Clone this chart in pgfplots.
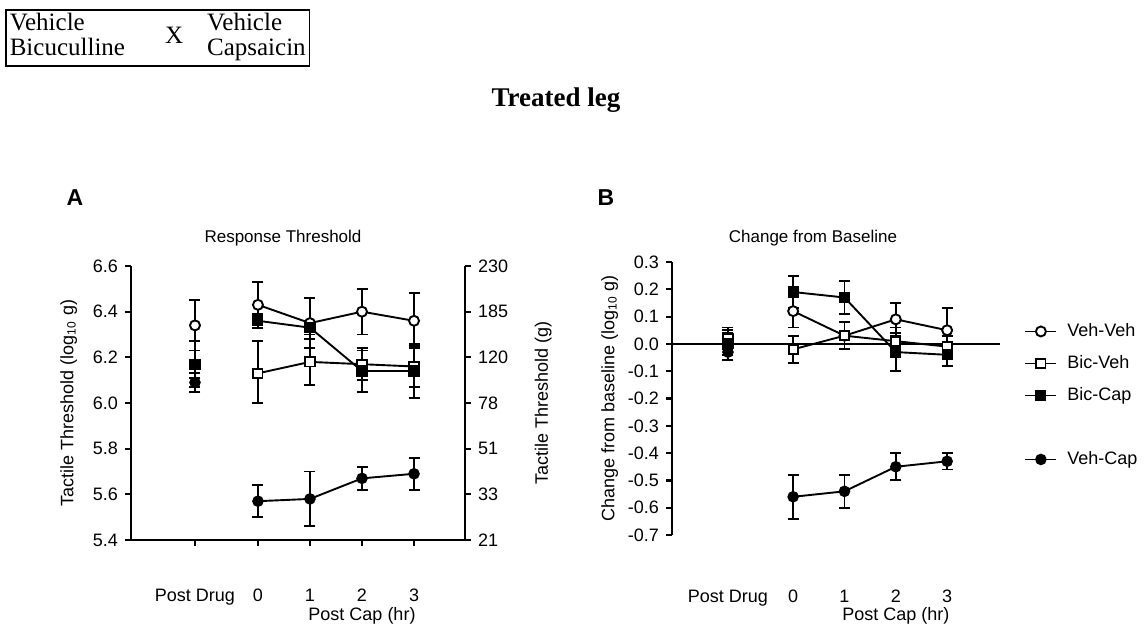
\documentclass[border=0pt]{standalone}
\usepackage{pgfplots}
\pgfplotsset{compat=1.18}
\usepackage{fontspec}
\setmainfont{Liberation Sans}
\newfontfamily\seriffont{Liberation Serif}
\begin{document}
\begin{tikzpicture}
\pgfplotsset{
  every axis/.append style={
    scale only axis, clip=false,
    font=\fontsize{9}{11}\selectfont,
    /pgf/number format/assume math mode=true,
    axis line style={-, line width=1.1pt},
    tick align=outside, major tick length=3pt,
    every tick/.style={line width=1.1pt, black},
    yticklabel style={/pgf/number format/fixed, /pgf/number format/fixed zerofill, /pgf/number format/precision=1},
  },
  dat/.style={black, line width=0.95pt,
    error bars/y dir=both, error bars/y explicit,
    error bars/error bar style={line width=0.95pt},
    error bars/error mark options={rotate=90, mark size=2.75pt, line width=0.95pt}},
  vv/.style={dat, mark=*, mark size=2.5pt, mark options={fill=white, draw=black, solid}},
  bv/.style={dat, mark=square*, mark size=2.3pt, mark options={fill=white, draw=black, solid}},
  bc/.style={dat, mark=square*, mark size=2.3pt, mark options={fill=black, draw=black, solid}},
  vc/.style={dat, mark=*, mark size=2.4pt, mark options={fill=black, draw=black, solid}},
}
\path[use as bounding box] (0,0) rectangle (572.5pt,-313.5pt);

% header box
\node[draw, line width=0.8pt, anchor=north west, inner xsep=2pt, inner ysep=1.5pt, font=\seriffont\fontsize{12.5}{12.5}\selectfont] at (2.5pt,-4.5pt)
 {\begin{tabular}{@{}l@{}}Vehicle\\Bicuculline\end{tabular}\hspace{20pt}X\hspace{12pt}\begin{tabular}{@{}l@{}}Vehicle\\Capsaicin\end{tabular}};
\node[font=\seriffont\bfseries\fontsize{13.5}{16}\selectfont] at (278pt,-50pt) {Treated leg};
\node[font=\bfseries\fontsize{11.5}{13}\selectfont] at (37.5pt,-99pt) {A};
\node[font=\bfseries\fontsize{11.5}{13}\selectfont] at (303pt,-99pt) {B};
\node[font=\fontsize{8.5}{10}\selectfont] at (141.5pt,-119pt) {Response Threshold};
\node[font=\fontsize{8.5}{10}\selectfont] at (406.5pt,-119pt) {Change from Baseline};

% Panel A, left axis
\begin{axis}[at={(65.5pt,-270pt)}, anchor=south west, width=167pt, height=137pt,
  xmin=-2.44, xmax=3.98, ymin=5.4, ymax=6.6,
  axis x line*=bottom, axis y line*=left,
  xtick={-1.21,0,1,2,3}, xticklabels={Post Drug,0,1,2,3},
  xticklabel style={yshift=-18pt},
  ytick={5.4,5.6,5.8,6.0,6.2,6.4,6.6},
  ylabel={Tactile Threshold (log\textsubscript{10} g)},
  ylabel style={yshift=1pt},
]
\addplot[vv] coordinates {(0,6.43) +- (0,0.10) (1,6.35) +- (0,0.11) (2,6.40) +- (0,0.10) (3,6.36) +- (0,0.12)};
\addplot[vv, only marks, forget plot] coordinates {(-1.21,6.34) +- (0,0.11)};
\addplot[bv] coordinates {(0,6.13) += (0,0.14) -= (0,0.13) (1,6.18) +- (0,0.10) (2,6.17) +- (0,0.07) (3,6.16) +- (0,0.09)};
\addplot[bv, only marks, forget plot] coordinates {(-1.21,6.17) +- (0,0.06)};
\addplot[bc] coordinates {(0,6.36) +- (0,0.03) (1,6.33) +- (0,0.03) (2,6.14) +- (0,0.09) (3,6.14) +- (0,0.12)};
\addplot[bc, only marks, forget plot] coordinates {(-1.21,6.17) +- (0,0.10)};
\addplot[vc] coordinates {(0,5.57) +- (0,0.07) (1,5.58) +- (0,0.12) (2,5.67) +- (0,0.05) (3,5.69) +- (0,0.07)};
\addplot[vc, only marks, forget plot] coordinates {(-1.21,6.09) +- (0,0.04)};
\node at (axis cs:2,5.4) [yshift=-38pt] {Post Cap (hr)};
\end{axis}

% Panel A, right axis
\begin{axis}[at={(65.5pt,-270pt)}, anchor=south west, width=167pt, height=137pt,
  xmin=-2.44, xmax=3.98, ymin=5.4, ymax=6.6,
  axis x line=none, axis y line*=right,
  ytick={5.4,5.6,5.8,6.0,6.2,6.4,6.6},
  yticklabels={21,33,51,78,120,185,230},
]
\node[rotate=90] at (axis description cs:1.234,0.5) {Tactile Threshold (g)};
\end{axis}

% Panel B
\begin{axis}[at={(336pt,-267.5pt)}, anchor=south west, width=164pt, height=136.5pt,
  xmin=-2.36, xmax=4.03, ymin=-0.7, ymax=0.3,
  axis x line*=bottom, axis y line*=left,
  x axis line style={draw=none}, xtick style={draw=none},
  xtick={-1.27,0,1,2,3}, xticklabels={Post Drug,0,1,2,3},
  xticklabel style={yshift=-21pt},
  ytick={-0.7,-0.6,-0.5,-0.4,-0.3,-0.2,-0.1,0.0,0.1,0.2,0.3},
  ylabel={Change from baseline (log\textsubscript{10} g)},
  ylabel style={yshift=-2pt},
  legend cell align=left,
  legend style={at={(1.055,0.802)}, anchor=north west, draw=none, fill=none,
    font=\fontsize{9}{11}\selectfont, row sep=5pt, column sep=4pt,
    nodes={inner sep=1pt, text height=7pt, text depth=2pt}},
  legend image code/.code={\draw[mark repeat=2,mark phase=2,#1] plot coordinates {(0pt,0pt) (7.75pt,0pt) (15.5pt,0pt)};},
]
\addplot[black, line width=1.1pt, no marks, forget plot] coordinates {(-2.36,0) (4.03,0)};
\addplot[vv] coordinates {(0,0.12) +- (0,0.06) (1,0.03) +- (0,0.05) (2,0.09) +- (0,0.06) (3,0.05) +- (0,0.08)};
\addlegendentry{Veh-Veh}
\addplot[vv, only marks, forget plot] coordinates {(-1.27,0.02) +- (0,0.04)};
\addplot[bv] coordinates {(0,-0.02) +- (0,0.05) (1,0.03) +- (0,0.05) (2,0.01) +- (0,0.05) (3,-0.01) +- (0,0.04)};
\addlegendentry{Bic-Veh}
\addplot[bv, only marks, forget plot] coordinates {(-1.27,0.02) +- (0,0.03)};
\addplot[bc] coordinates {(0,0.19) +- (0,0.06) (1,0.17) +- (0,0.06) (2,-0.03) +- (0,0.07) (3,-0.04) +- (0,0.04)};
\addlegendentry{Bic-Cap}
\addplot[bc, only marks, forget plot] coordinates {(-1.27,0.0) +- (0,0.04)};
\addlegendimage{empty legend}
\addlegendentry{}
\addplot[vc] coordinates {(0,-0.56) +- (0,0.08) (1,-0.54) +- (0,0.06) (2,-0.45) +- (0,0.05) (3,-0.43) +- (0,0.03)};
\addlegendentry{Veh-Cap}
\addplot[vc, only marks, forget plot] coordinates {(-1.27,-0.03) +- (0,0.03)};
\node at (axis cs:2,-0.7) [yshift=-40.5pt] {Post Cap (hr)};
\end{axis}
\end{tikzpicture}
\end{document}
